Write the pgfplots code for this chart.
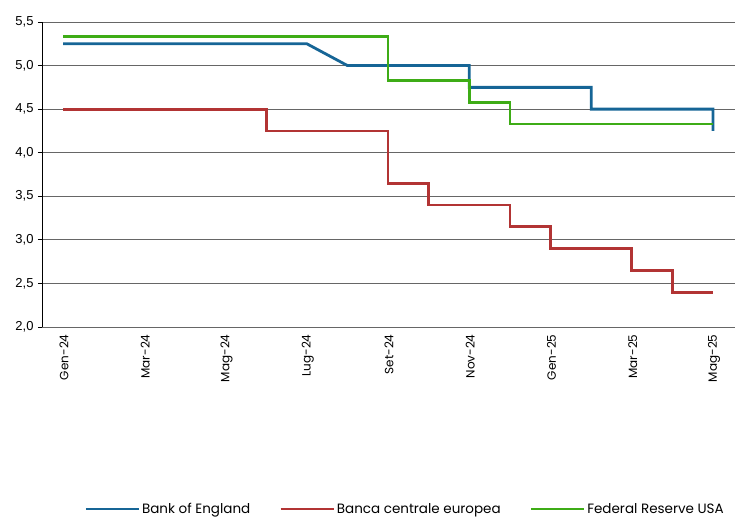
\documentclass[border=0pt]{standalone}
\usepackage{fontspec}
\setmainfont{Liberation Sans}
\newfontfamily\popp{Poppins}
\usepackage{pgfplots}
\pgfplotsset{compat=1.18}
\definecolor{boe}{RGB}{22,101,150}
\definecolor{ecb}{RGB}{178,52,52}
\definecolor{fed}{RGB}{62,172,22}
\begin{document}
\begin{tikzpicture}
\begin{axis}[
  scale only axis, width=693bp, height=305bp,
  xmin=-0.52, xmax=16.54, ymin=2, ymax=5.5,
  ytick={2,2.5,...,5.5},
  xtick={0,2,...,16},
  xticklabels={Gen-24,Mar-24,Mag-24,Lug-24,Set-24,Nov-24,Gen-25,Mar-25,Mag-25},
  axis y line*=left, axis x line*=bottom,
  axis line style={-},
  x axis line style={draw=none},
  y axis line style={black, line width=0.8bp},
  ymajorgrids, grid style={black!60, line width=0.9bp},
  major x tick style={draw=none},
  major y tick style={black, line width=0.8bp},
  tick align=outside, major tick length=4bp,
  y tick label style={/pgf/number format/fixed, /pgf/number format/fixed zerofill, /pgf/number format/precision=1, /pgf/number format/use comma, /pgf/number format/assume math mode=true},
  yticklabel style={font=\fontsize{13bp}{15bp}\selectfont, xshift=-1bp},
  xticklabel style={rotate=90, anchor=east, font=\popp\fontsize{12bp}{14bp}\selectfont, yshift=-1bp},
  legend style={at={(0.524,-0.597)}, anchor=center, draw=none, legend columns=3,
    font=\popp\fontsize{13.5bp}{16bp}\selectfont,
    /tikz/every even column/.append style={column sep=27bp}},
  legend image code/.code={\draw[#1, line width=2.6bp] (0bp,0bp) -- (53bp,0bp);},
]
\addplot[boe, line width=2.8bp] coordinates {(0,5.25) (6,5.25) (7,5.0) (10,5.0) (10,4.75) (13,4.75) (13,4.5) (16,4.5) (16,4.25)};
\addlegendentry{Bank of England}
\addplot[ecb, line width=2.8bp] coordinates {(0,4.5) (5,4.5) (5,4.25) (8,4.25) (8,3.65) (9,3.65) (9,3.4) (11,3.4) (11,3.15) (12,3.15) (12,2.9) (14,2.9) (14,2.65) (15,2.65) (15,2.4) (16,2.4)};
\addlegendentry{Banca centrale europea}
\addplot[fed, line width=2.8bp] coordinates {(0,5.33) (8,5.33) (8,4.83) (10,4.83) (10,4.58) (11,4.58) (11,4.33) (16,4.33)};
\addlegendentry{Federal Reserve USA}
\end{axis}
\pgfresetboundingbox
\path[use as bounding box] (-42bp,-190bp) rectangle (694bp,327bp);
\end{tikzpicture}
\end{document}
